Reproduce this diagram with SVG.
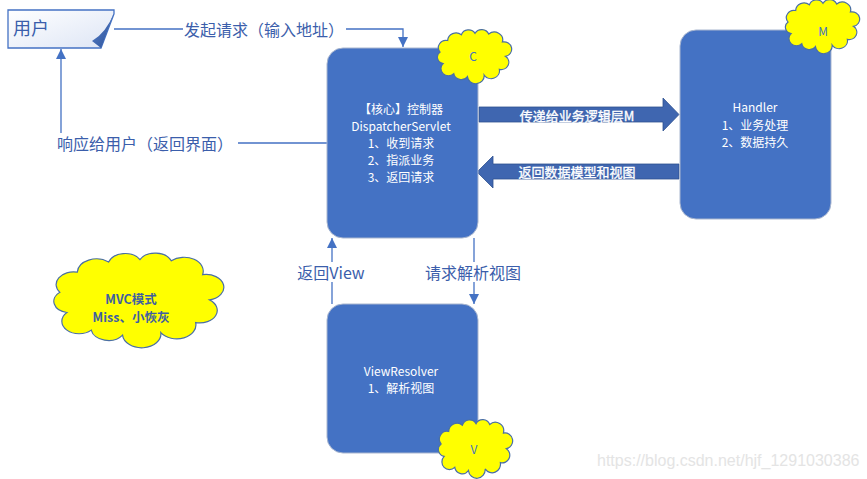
<svg xmlns="http://www.w3.org/2000/svg" width="867" height="479" viewBox="0 0 867 479">
<style>
.box{fill:#4472C4;stroke:#A9B6CF;stroke-width:1}
.wt{fill:#FFFFFF;font-family:"Noto Sans CJK SC","Noto Sans",sans-serif;font-size:12px;text-anchor:middle;dominant-baseline:central}
.lbl{fill:#3B5EAB;font-family:"Noto Sans CJK SC","Noto Sans",sans-serif;font-size:16px;text-anchor:middle;dominant-baseline:central}
.ln{fill:none;stroke:#4472C4;stroke-width:1.3}
.cloud{fill:#FFFF00;stroke:#4A6FA5;stroke-width:1.2}
.ct{fill:#4472C4;font-family:"Noto Sans CJK SC","Noto Sans",sans-serif;font-size:12px;text-anchor:middle;dominant-baseline:central}
.blk{fill:#3F66B0;stroke:#2F528F;stroke-width:0.8}
.bt{fill:#FFFFFF;stroke:#FFFFFF;stroke-width:0.35;font-family:"Noto Sans CJK SC","Noto Sans",sans-serif;font-size:13px;text-anchor:middle;dominant-baseline:central}
.mt{fill:#3F5FA0;font-family:"Noto Sans CJK SC","Noto Sans",sans-serif;font-size:12.5px;font-weight:bold;text-anchor:middle;dominant-baseline:central}
</style>
<defs>
<marker id="ah" markerUnits="userSpaceOnUse" markerWidth="10" markerHeight="10" viewBox="0 0 10 10" refX="10" refY="5" orient="auto">
<path d="M0,0 L10,5 L0,10 Z" fill="#4472C4"/>
</marker>
<path id="cl" vector-effect="non-scaling-stroke" d="M12,48 A9,9 0 0 1 8,32 A10,10 0 0 1 18,16 A11,11 0 0 1 36,8 A10,10 0 0 1 54,6 A10,10 0 0 1 72,7 A11,11 0 0 1 90,18 A10,10 0 0 1 94,38 A10,10 0 0 1 86,56 A11,11 0 0 1 66,64 A11,11 0 0 1 44,66 A10,10 0 0 1 26,62 A8,8 0 0 1 12,48 Z"/>
<linearGradient id="ug" x1="0" y1="0" x2="1" y2="1">
<stop offset="0" stop-color="#FFFFFF"/>
<stop offset="1" stop-color="#DDE5F5"/>
</linearGradient>
<linearGradient id="fg" x1="0" y1="0" x2="1" y2="1">
<stop offset="0" stop-color="#5B84CF"/>
<stop offset="1" stop-color="#2A4F95"/>
</linearGradient>
</defs>
<rect width="867" height="479" fill="#FFFFFF"/>

<g id="connectors">
<path class="ln" d="M114,29 H403 V47" marker-end="url(#ah)"/>
<rect x="183" y="19" width="163" height="20" fill="#FFFFFF"/>
<text class="lbl" x="264" y="29">发起请求（输入地址）</text>
<path class="ln" d="M327,143 H61 V49" marker-end="url(#ah)"/>
<rect x="54" y="133" width="184" height="20" fill="#FFFFFF"/>
<text class="lbl" x="145" y="143">响应给用户（返回界面）</text>
<path class="ln" d="M332,304 V238" marker-end="url(#ah)"/>
<rect x="296" y="262" width="70" height="20" fill="#FFFFFF"/>
<text class="lbl" x="331" y="272">返回View</text>
<path class="ln" d="M474,238 V304" marker-end="url(#ah)"/>
<rect x="422" y="262" width="104" height="20" fill="#FFFFFF"/>
<text class="lbl" x="473" y="272">请求解析视图</text>
<polygon class="blk" points="479,107 663,107 663,98 679,114.5 663,131 663,122 479,122"/>
<text class="bt" x="577" y="115">传递给业务逻辑层M</text>
<polygon class="blk" points="679,164 493,164 493,156 477,172 493,188 493,179 679,179"/>
<text class="bt" x="577" y="171">返回数据模型和视图</text>
</g>

<g id="user">
<path d="M8,10 H114 V14 L101,48 H8 Z" fill="url(#ug)" stroke="#4472C4" stroke-width="1.3"/>
<path d="M114,13 Q106,33 92,41 L101,48 Z" fill="url(#fg)"/>
<text x="13" y="27" fill="#3B5EAB" font-family="'Noto Sans CJK SC','Noto Sans',sans-serif" font-size="18" dominant-baseline="central">用户</text>
</g>

<g id="controller">
<rect class="box" x="327" y="48" width="151" height="190" rx="16"/>
<text class="wt" x="401" y="108">【核心】控制器</text>
<text class="wt" x="401" y="125">DispatcherServlet</text>
<text class="wt" x="401" y="142">1、收到请求</text>
<text class="wt" x="401" y="159.5">2、指派业务</text>
<text class="wt" x="401" y="176.5">3、返回请求</text>
</g>
<g id="cloud-c">
<use href="#cl" class="cloud" transform="translate(434,29) scale(0.76,0.72)"/>
<text class="ct" x="473" y="55">C</text>
</g>

<g id="handler">
<rect class="box" x="680" y="30" width="151" height="189" rx="16"/>
<text class="wt" x="755" y="106">Handler</text>
<text class="wt" x="755" y="124">1、业务处理</text>
<text class="wt" x="755" y="141">2、数据持久</text>
</g>
<g id="cloud-m">
<use href="#cl" class="cloud" transform="translate(782,-1) scale(0.76,0.72)"/>
<text class="ct" x="823" y="30">M</text>
</g>

<g id="viewresolver">
<rect class="box" x="327" y="304" width="151" height="149" rx="16"/>
<text class="wt" x="401" y="370">ViewResolver</text>
<text class="wt" x="401" y="387">1、解析视图</text>
</g>
<g id="cloud-v">
<use href="#cl" class="cloud" transform="translate(435,419) scale(0.76,0.78)"/>
<text class="ct" x="474" y="448">V</text>
</g>

<g id="mvc-note">
<use href="#cl" class="cloud" transform="translate(46,252) scale(1.74,1.26)"/>
<text class="mt" x="131" y="298">MVC模式</text>
<text class="mt" x="131" y="316">Miss、小恢灰</text>
</g>

<text x="597" y="466" fill="#E4E4E4" font-family="'Liberation Sans',Arial,sans-serif" font-size="16">https://blog.csdn.net/hjf_1291030386</text>
</svg>
